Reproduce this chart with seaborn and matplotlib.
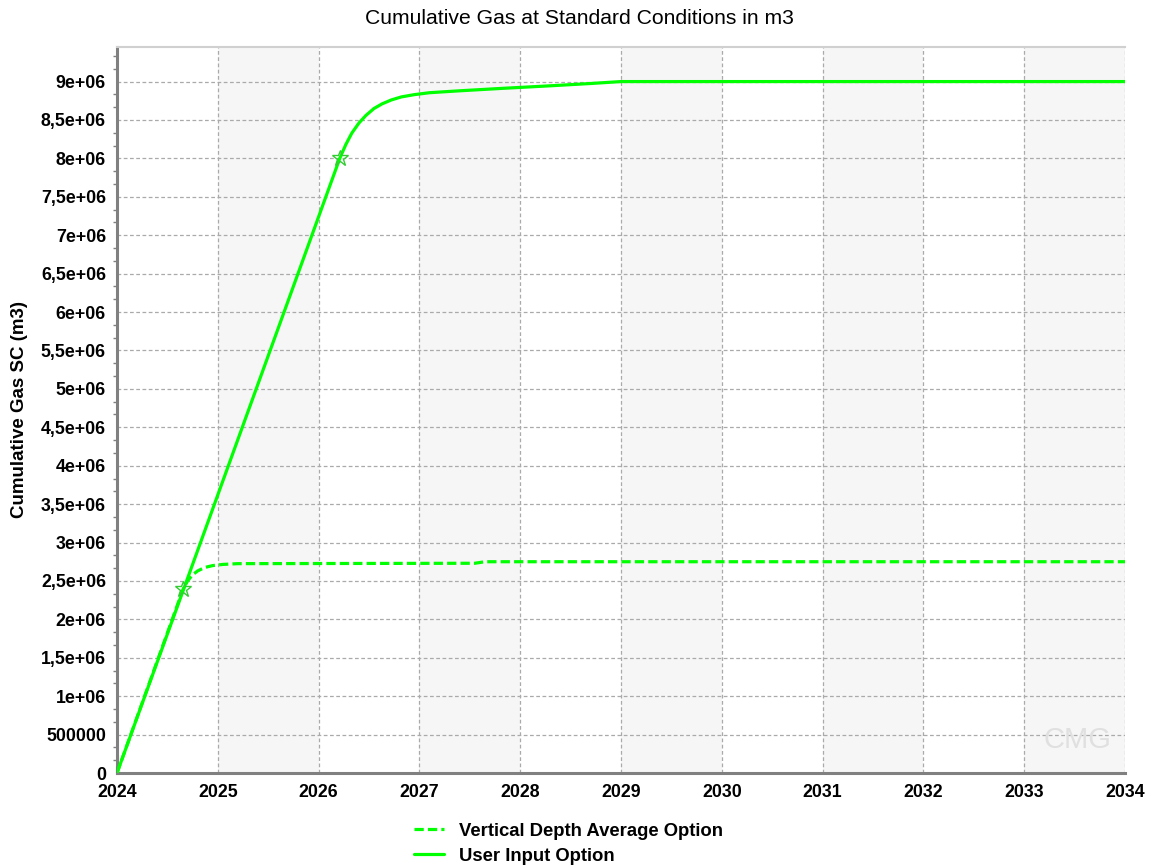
import matplotlib
matplotlib.use("Agg")
import matplotlib.pyplot as plt
from matplotlib.ticker import FixedLocator, FixedFormatter, MultipleLocator
from matplotlib.lines import Line2D
import seaborn as sns
import pandas as pd

# Cumulative gas, user input option (m3)
user_years = [2024.0, 2026.21, 2026.27, 2026.33, 2026.4, 2026.47, 2026.55,
              2026.63, 2026.72, 2026.82, 2026.95, 2027.1, 2027.4, 2027.8,
              2028.3, 2028.7, 2029.0, 2034.0]
user_gas = [0.0, 8.0e6, 8.18e6, 8.33e6, 8.46e6, 8.56e6, 8.65e6,
            8.71e6, 8.76e6, 8.80e6, 8.83e6, 8.855e6, 8.88e6, 8.91e6,
            8.945e6, 8.975e6, 9.0e6, 9.0e6]

# Cumulative gas, vertical depth average option (m3)
vda_years = [2024.0, 2024.655, 2024.7, 2024.75, 2024.8, 2024.87, 2024.95,
             2025.05, 2025.2, 2027.55, 2027.65, 2034.0]
vda_gas = [0.0, 2.39e6, 2.50e6, 2.58e6, 2.63e6, 2.675e6, 2.70e6,
           2.715e6, 2.725e6, 2.73e6, 2.75e6, 2.75e6]

# Marker positions on each curve
user_marker = (2026.21, 8.0e6)
vda_marker = (2024.655, 2.39e6)

year_ticks = list(range(2024, 2035))
y_ticks = [0, 5e5, 1e6, 1.5e6, 2e6, 2.5e6, 3e6, 3.5e6, 4e6, 4.5e6, 5e6,
           5.5e6, 6e6, 6.5e6, 7e6, 7.5e6, 8e6, 8.5e6, 9e6]
y_tick_labels = ["0", "500000", "1e+06", "1,5e+06", "2e+06", "2,5e+06", "3e+06",
                 "3,5e+06", "4e+06", "4,5e+06", "5e+06", "5,5e+06", "6e+06",
                 "6,5e+06", "7e+06", "7,5e+06", "8e+06", "8,5e+06", "9e+06"]

sns.set_style("white")
plt.rcParams["font.family"] = ["Liberation Sans", "DejaVu Sans"]
plt.rcParams["text.color"] = "black"

GREEN = "#00ff00"
GRAY = "#808080"
DASH = (0, (2.9, 1.3))

fig = plt.figure(figsize=(11.51, 8.65), dpi=100)
ax = fig.add_axes([117 / 1151, 1 - 773 / 865, (1125 - 117) / 1151, (773 - 47) / 865])

# alternating year bands
for i, yr in enumerate(year_ticks[:-1]):
    if i % 2 == 1:
        ax.axvspan(yr, yr + 1, color="#f6f6f6", zorder=0, lw=0)

user_df = pd.DataFrame({"year": user_years, "gas": user_gas})
vda_df = pd.DataFrame({"year": vda_years, "gas": vda_gas})

sns.lineplot(data=vda_df, x="year", y="gas", ax=ax, color=GREEN, lw=2.3,
             linestyle=DASH, zorder=3)
sns.lineplot(data=user_df, x="year", y="gas", ax=ax, color=GREEN, lw=2.3,
             zorder=4)

for mx, my in (user_marker, vda_marker):
    ax.plot([mx], [my], marker="*", ms=12, mfc="none", mec="#33cc33",
            mew=1.0, zorder=5)

ax.set_xlim(2024, 2034)
ax.set_ylim(0, 9.45e6)
ax.xaxis.set_major_locator(FixedLocator(year_ticks))
ax.xaxis.set_major_formatter(FixedFormatter([str(y) for y in year_ticks]))
ax.yaxis.set_major_locator(FixedLocator(y_ticks))
ax.yaxis.set_major_formatter(FixedFormatter(y_tick_labels))
ax.yaxis.set_minor_locator(MultipleLocator(5e5 / 3))

ax.grid(True, which="major", color="#aaaaaa", linestyle=(0, (3, 2)), lw=0.9)
ax.set_axisbelow(True)

for side in ("left", "bottom"):
    ax.spines[side].set_color(GRAY)
    ax.spines[side].set_linewidth(2.2)
ax.spines["top"].set_color("#d0d0d0")
ax.spines["top"].set_linewidth(1.5)
ax.spines["right"].set_visible(False)

ax.tick_params(axis="both", which="major", direction="out", length=5, width=1.5,
               color=GRAY, labelsize=12.8, labelcolor="black", pad=3)
ax.tick_params(axis="y", which="minor", direction="out", length=3, width=1.0,
               color=GRAY, left=True)
for lab in ax.get_xticklabels() + ax.get_yticklabels():
    lab.set_fontweight("bold")

ax.set_xlabel("")
ax.set_ylabel("Cumulative Gas SC (m3)", fontsize=13.5, fontweight="bold",
              color="black", labelpad=9)

fig.text(0.503, 0.979, "Cumulative Gas at Standard Conditions in m3",
         ha="center", va="center", fontsize=15.2, color="black")

# watermark
ax.text(0.953, 0.045, "CMG", transform=ax.transAxes, ha="center", va="center",
        fontsize=21, color="#e0e0e0", zorder=1)

handles = [Line2D([], [], color=GREEN, lw=2.3, linestyle=DASH),
           Line2D([], [], color=GREEN, lw=2.3)]
fig.legend(handles, ["Vertical Depth Average Option", "User Input Option"],
           loc="center", bbox_to_anchor=(0.494, 0.0245), frameon=False,
           prop={"weight": "bold", "size": 13.3}, handlelength=1.6,
           handletextpad=0.8, labelspacing=0.45)

fig.savefig("out.png", dpi=100)
